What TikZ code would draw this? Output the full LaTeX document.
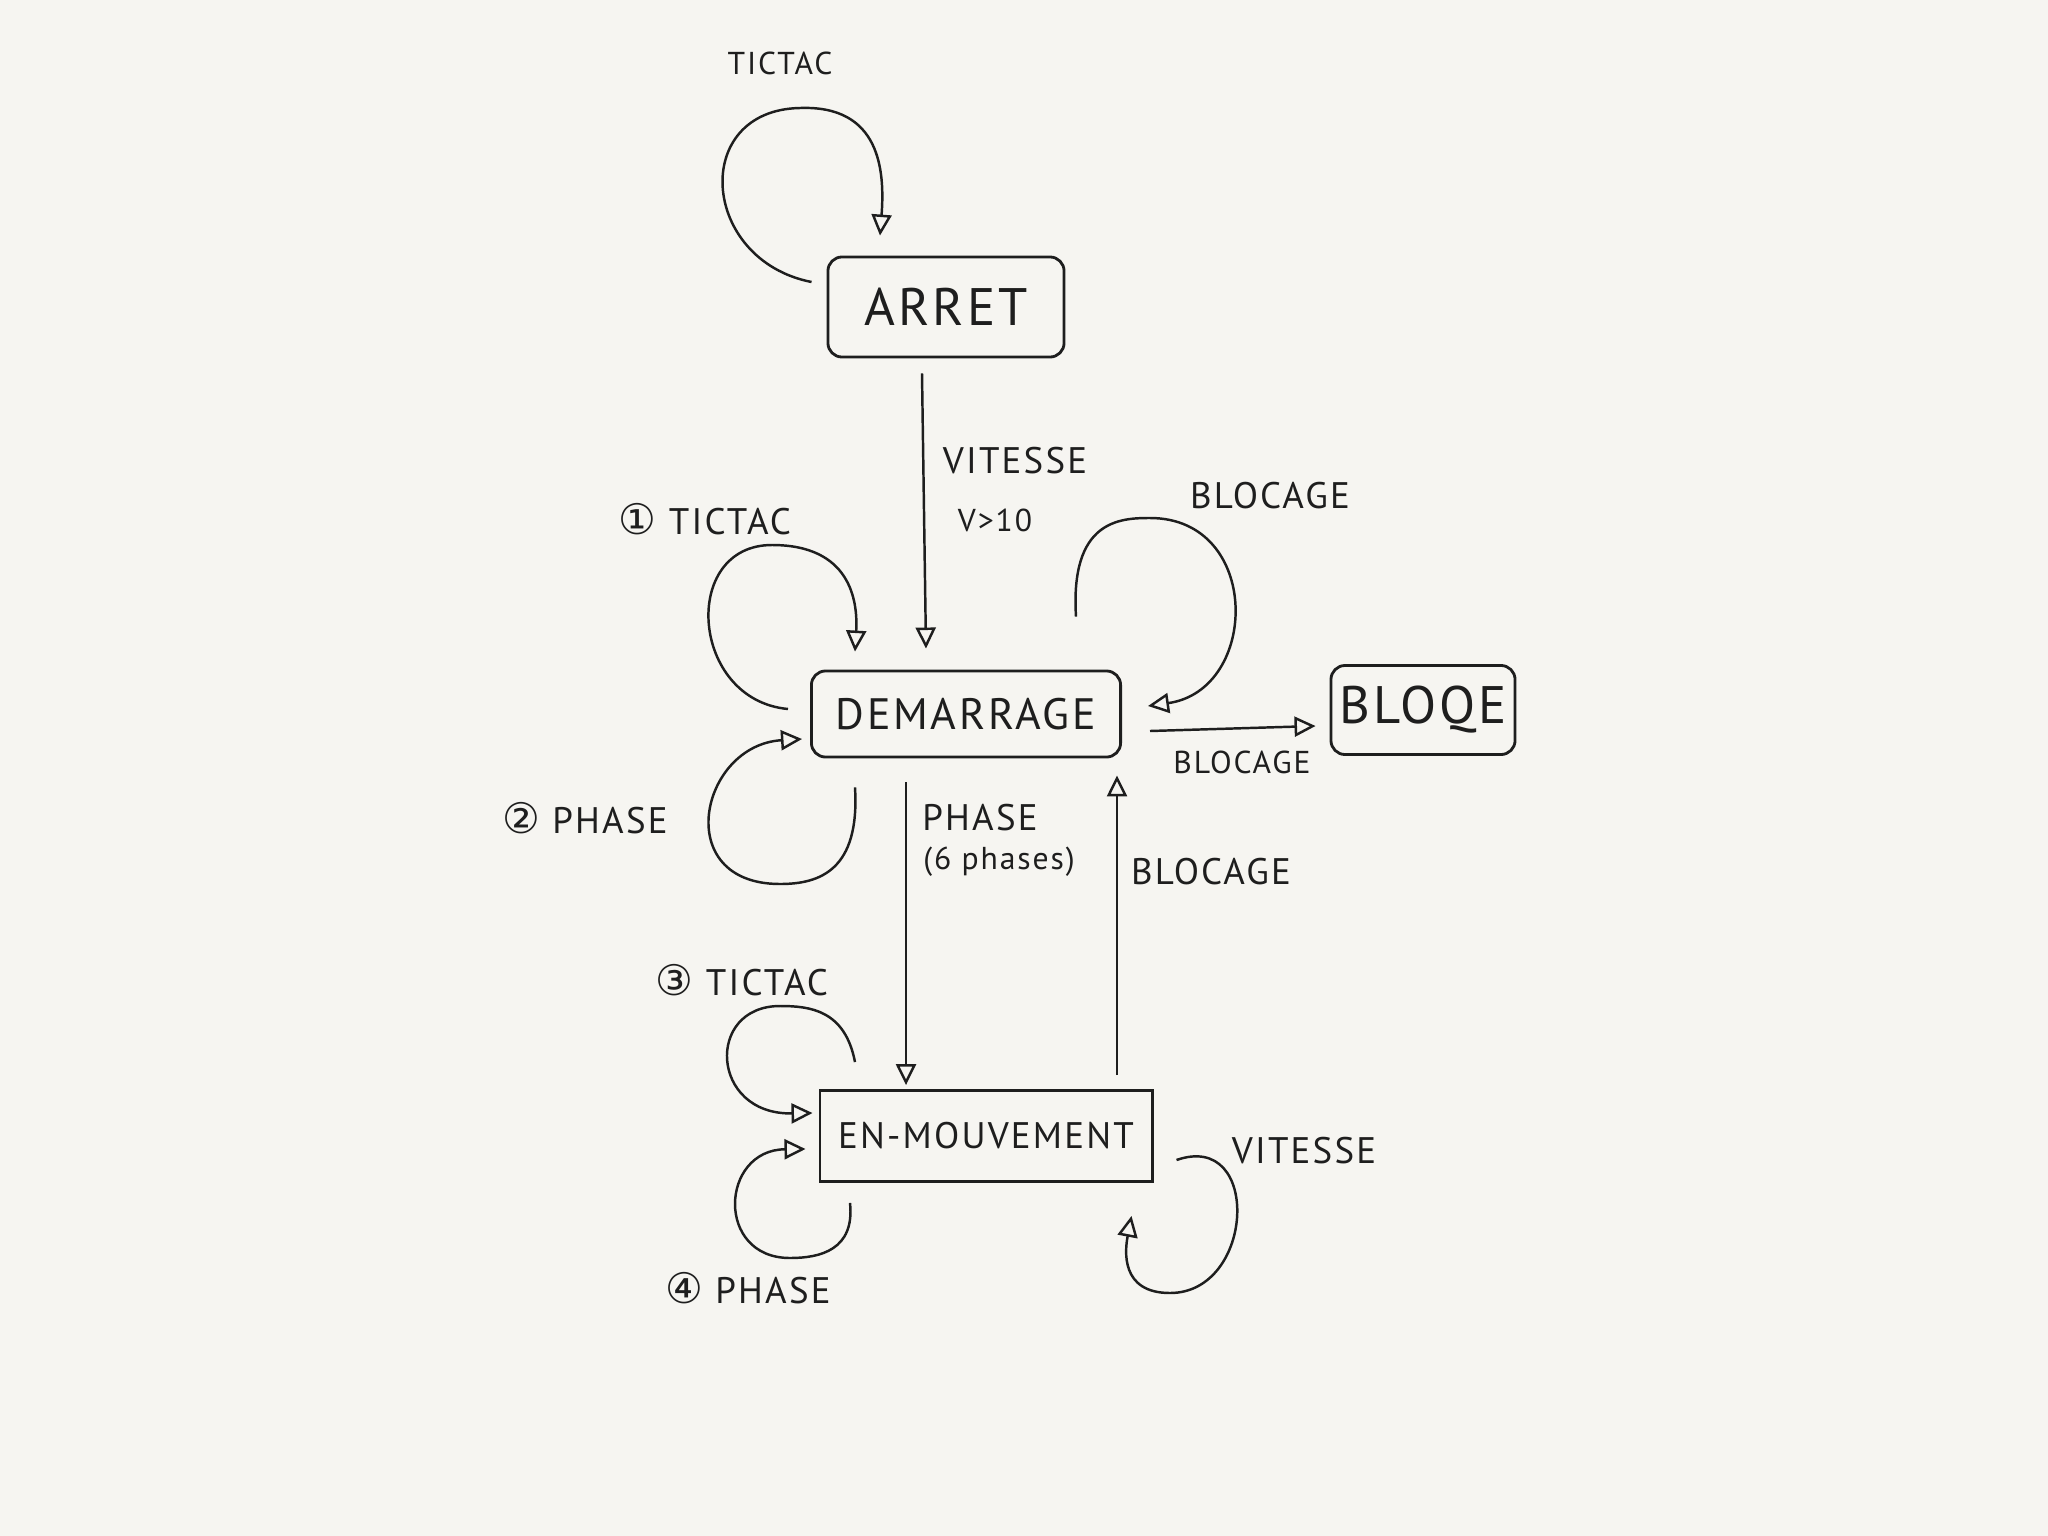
\documentclass[tikz,border=0pt]{standalone}
\usepackage{fontspec}
\setmainfont{PT Sans}[LetterSpace=6.0]
\newfontfamily\numfont{DejaVu Sans}
\usetikzlibrary{arrows.meta}
\definecolor{paperbg}{RGB}{246,245,241}
\definecolor{inkgrey}{RGB}{30,30,30}
\tikzset{
    % State boxes
    statebox/.style={
        draw=inkgrey, line width=0.8pt, rounded corners=4pt,
        inner sep=0pt, text=inkgrey, font=\fontsize{12.5}{15}\selectfont
    },
    bigstatebox/.style={statebox, font=\fontsize{15}{18}\selectfont},
    sharpstatebox/.style={statebox, sharp corners, font=\fontsize{10.5}{13}\selectfont},
    % Transitions
    arc/.style={-{Triangle[open,length=2.1mm,width=2.0mm]}, line width=0.7pt, inkgrey},
    % Transition labels
    translabel/.style={text=inkgrey, inner sep=1pt, font=\fontsize{10.5}{13}\selectfont},
    smalllabel/.style={translabel, font=\fontsize{9}{11}\selectfont},
}
\newcommand{\stepnum}[1]{{\numfont\fontsize{12}{14}\selectfont\char\numexpr"245F+#1\relax}}

\begin{document}
\begin{tikzpicture}[x=0.01cm,y=-0.01cm]
    \fill[paperbg] (0,0) rectangle (2048,1536);
    \useasboundingbox (0,0) rectangle (2048,1536);
    % states
    \node[bigstatebox, minimum width=2.36cm, minimum height=1.0cm] (arret) at (946,307) {ARRET};
    \node[statebox, minimum width=3.09cm, minimum height=0.86cm] (demarrage) at (966,714) {DEMARRAGE};
    \node[bigstatebox, minimum width=1.84cm, minimum height=0.89cm] (bloqe) at (1423,710) {BLOQE};
    \node[sharpstatebox, minimum width=3.32cm, minimum height=0.91cm] (mouvement) at (986,1136) {EN-MOUVEMENT};
    % ARRET
    \draw[arc] ([shift={(-15,-25)}]arret.west) .. controls (700,260) and (690,110) .. (800,108)
        .. controls (880,105) and (885,170) .. ([shift={(-66,-20)}]arret.north);
    \node[smalllabel] (ltictac0) at (780,63) {TICTAC};
    \draw[arc] ([shift={(-24,15)}]arret.south) -- ([shift={(-40,-21)}]demarrage.north);
    \node[translabel] (lvitesse0) at (1015,461) {VITESSE};
    \node[smalllabel] (lseuil) at (995,520) {V>10};
    % DEMARRAGE
    \draw[arc] ([shift={(-22,-5)}]demarrage.west) .. controls (690,700) and (680,545) .. (772,545)
        .. controls (850,545) and (858,600) .. ([shift={(-111,-18)}]demarrage.north);
    \node[translabel] (ltictac1) at (705,519) {\stepnum{1}\ TICTAC};
    \draw[arc] ([shift={(-46,-53)}]demarrage.north east) .. controls (1070,520) and (1120,518) .. (1150,518)
        .. controls (1262,518) and (1260,690) .. ([shift={(26,-8)}]demarrage.east);
    \node[translabel] (lblocage0) at (1270,496) {BLOCAGE};
    \draw[arc] ([shift={(28,17)}]demarrage.east) -- ([shift={(-14,16)}]bloqe.west);
    \node[smalllabel] (lblocage1) at (1242,762) {BLOCAGE};
    \draw[arc] ([shift={(-111,29)}]demarrage.south) .. controls (860,870) and (820,884) .. (780,884)
        .. controls (670,884) and (700,745) .. ([shift={(-8,25)}]demarrage.west);
    \node[translabel] (lphase2) at (585,818) {\stepnum{2}\ PHASE};
    \draw[arc] ([shift={(-60,24)}]demarrage.south) -- ([shift={(-80,-4)}]mouvement.north);
    \node[translabel] (lphase0) at (980,818) {PHASE};
    \node[smalllabel] (lsixphases) at (999,862) {(6 phases)};
    % EN-MOUVEMENT
    \draw[arc] ([shift={(131,-14)}]mouvement.north) -- ([shift={(151,17)}]demarrage.south);
    \node[translabel] (lblocage2) at (1211,872) {BLOCAGE};
    \draw[arc] ([shift={(-131,-27)}]mouvement.north) .. controls (845,1010) and (810,1006) .. (780,1006)
        .. controls (705,1006) and (710,1115) .. ([shift={(-6,-23)}]mouvement.west);
    \node[translabel] (ltictac3) at (742,980) {\stepnum{3}\ TICTAC};
    \draw[arc] ([shift={(-136,20)}]mouvement.south) .. controls (855,1250) and (820,1258) .. (790,1258)
        .. controls (715,1258) and (720,1150) .. ([shift={(-13,13)}]mouvement.west);
    \node[translabel] (lphase4) at (748,1288) {\stepnum{4}\ PHASE};
    \draw[arc] ([shift={(23,24)}]mouvement.east) .. controls (1262,1130) and (1255,1293) .. (1170,1293)
        .. controls (1120,1293) and (1125,1250) .. ([shift={(-22,33)}]mouvement.south east);
    \node[translabel] (lvitesse1) at (1304,1151) {VITESSE};
\end{tikzpicture}
\end{document}
